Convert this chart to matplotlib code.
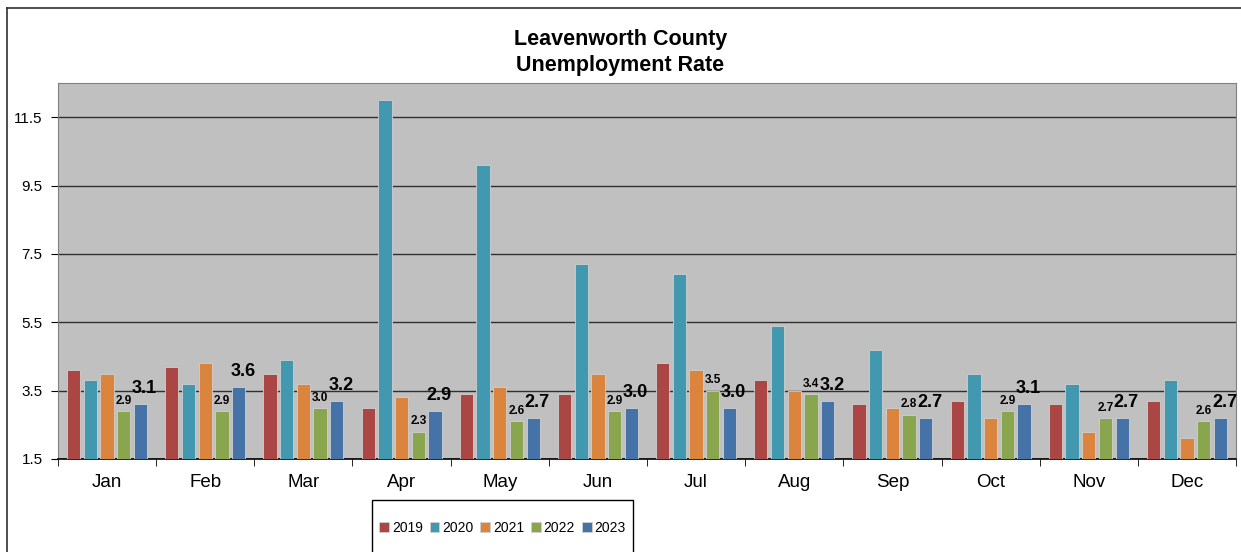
import matplotlib
matplotlib.use("Agg")
import matplotlib.pyplot as plt
import numpy as np
from matplotlib.lines import Line2D
from matplotlib.patches import Rectangle

plt.rcParams['font.family'] = ['Liberation Sans', 'DejaVu Sans']

# Arbeitslosenquote je Monat und Jahr (%)
monate = ["Jan", "Feb", "Mar", "Apr", "May", "Jun", "Jul", "Aug", "Sep", "Oct", "Nov", "Dec"]
jahre = ["2019", "2020", "2021", "2022", "2023"]
q2019 = [4.1, 4.2, 4.0, 3.0, 3.4, 3.4, 4.3, 3.8, 3.1, 3.2, 3.1, 3.2]
q2020 = [3.8, 3.7, 4.4, 12.0, 10.1, 7.2, 6.9, 5.4, 4.7, 4.0, 3.7, 3.8]
q2021 = [4.0, 4.3, 3.7, 3.3, 3.6, 4.0, 4.1, 3.5, 3.0, 2.7, 2.3, 2.1]
q2022 = [2.9, 2.9, 3.0, 2.3, 2.6, 2.9, 3.5, 3.4, 2.8, 2.9, 2.7, 2.6]
q2023 = [3.1, 3.6, 3.2, 2.9, 2.7, 3.0, 3.0, 3.2, 2.7, 3.1, 2.7, 2.7]
reihen = [q2019, q2020, q2021, q2022, q2023]
farben = ["#AA4643", "#4198AF", "#DB843D", "#89A54E", "#4572A7"]

basis = 1.5
fig = plt.figure(figsize=(12.41, 5.52), dpi=100)
ax = fig.add_axes([58/1241, 1-459/552, (1236-58)/1241, (459-83)/552])
ax.set_facecolor("#C0C0C0")

x = np.arange(len(monate))
breite = 0.135
abstand = 0.17
balken = []
for i, (werte, farbe) in enumerate(zip(reihen, farben)):
    pos = x + (i - 2) * abstand
    hoehe = np.array(werte) - basis
    b = ax.bar(pos, hoehe, breite, bottom=basis, color=farbe, edgecolor="#d0d0d0",
               linewidth=0.6, label=jahre[i], zorder=3)
    balken.append(b)

# Beschriftungen 2022 (klein) und 2023 (gross)
for xi, w in zip(x + 1 * abstand, q2022):
    ax.annotate("%.1f" % w, (xi, w), xytext=(0, 3), textcoords="offset points",
                ha="center", va="bottom", fontsize=8.5, fontweight="bold", zorder=5)
for xi, w in zip(x + 2 * abstand, q2023):
    ax.annotate("%.1f" % w, (xi, w), xytext=(3, 5), textcoords="offset points",
                ha="center", va="bottom", fontsize=13, fontweight="bold", zorder=5)

ax.set_ylim(1.5, 12.5)
ax.set_xlim(-0.5, 11.5)
ax.set_yticks(np.arange(1.5, 12, 2.0))
ax.set_yticklabels(["1.5", "3.5", "5.5", "7.5", "9.5", "11.5"], fontsize=11)
ax.yaxis.grid(True, color="#303030", linewidth=1.0, zorder=1)
ax.set_axisbelow(True)
ax.set_xticks(x)
ax.set_xticklabels(monate, fontsize=13.5)
ax.set_xticks(np.arange(-0.5, 12, 1.0), minor=True)
ax.tick_params(axis="x", which="major", length=0, pad=11)
ax.tick_params(axis="x", which="minor", length=5, direction="out", color="black")
ax.tick_params(axis="y", length=5, direction="out", pad=6)
for s in ["left", "top", "right"]:
    ax.spines[s].set_color("#808080")
ax.spines["bottom"].set_color("black")
ax.spines["bottom"].set_linewidth(1.2)

fig.text(0.5, 1-40/552, "Leavenworth County", ha="center", va="center",
         fontsize=15.5, fontweight="bold")
fig.text(0.5, 1-65/552, "Unemployment Rate", ha="center", va="center",
         fontsize=15.5, fontweight="bold")

# Rahmen um das Diagramm
fig.add_artist(Line2D([7/1241, 7/1241], [0, 1-8/552], color="#303030", linewidth=1.2))
fig.add_artist(Line2D([7/1241, 1], [1-8/552, 1-8/552], color="#303030", linewidth=1.2))

# Legendenkasten, unten angeschnitten
fig.add_artist(Rectangle((372/1241, -0.05), (633-372)/1241, 0.05+(552-500)/552,
                         transform=fig.transFigure, facecolor="white",
                         edgecolor="black", linewidth=1.0))
leg = fig.legend(handles=balken, loc="center", bbox_to_anchor=((372+633)/2/1241, 1-528/552),
                 ncol=5, fontsize=10, frameon=False,
                 handlelength=0.7, handleheight=0.7, handletextpad=0.2,
                 columnspacing=0.5, borderpad=0, borderaxespad=0)

fig.savefig("out.png", dpi=100)
